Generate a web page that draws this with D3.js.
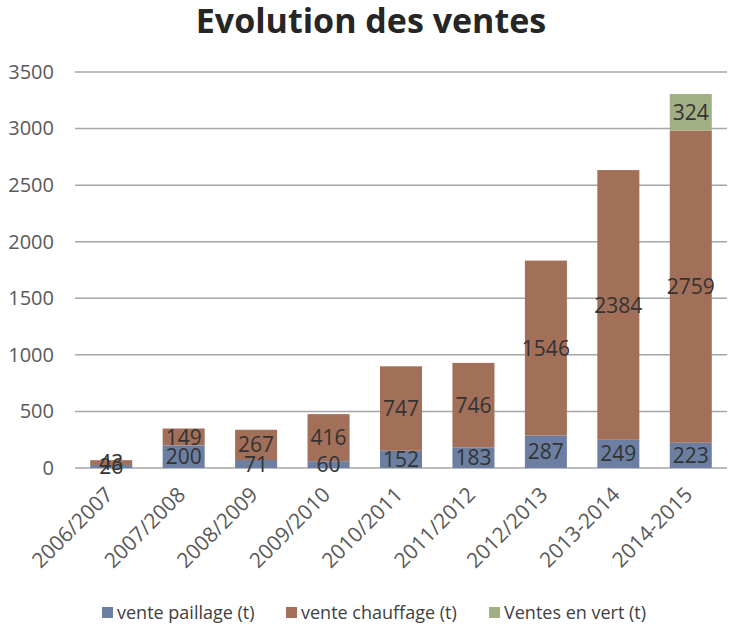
<!DOCTYPE html>
<html><head><meta charset="utf-8">
<script src="https://cdn.jsdelivr.net/npm/d3@7"></script>
<style>body{margin:0;background:#fff;}svg{display:block;font-family:"Open Sans",sans-serif;}</style>
</head><body>
<svg id="c" width="747" height="636"></svg>
<script>
const categories = ["2006/2007","2007/2008","2008/2009","2009/2010","2010/2011","2011/2012","2012/2013","2013-2014","2014-2015"];
const paillage = [26,200,71,60,152,183,287,249,223];
const chauffage = [43,149,267,416,747,746,1546,2384,2759];
const vert = [0,0,0,0,0,0,0,0,324];
const seriesNames = ["vente paillage (t)","vente chauffage (t)","Ventes en vert (t)"];
const colors = ["#6c7fa2","#a26f58","#a2ae84"];
const yTicks = [0,500,1000,1500,2000,2500,3000,3500];

const svg = d3.select("#c");
const x = d3.scaleBand().domain(categories).range([75,727]).paddingInner(0.42).paddingOuter(0.21);
const y = d3.scaleLinear().domain([0,3500]).range([468,72]);

svg.append("text").attr("x",371).attr("y",33).attr("text-anchor","middle")
  .attr("font-size",34).attr("font-weight","bold").attr("fill","#262626").text("Evolution des ventes");

// grid
svg.append("g").selectAll("line").data(yTicks).join("line")
  .attr("x1",75).attr("x2",727).attr("y1",d=>y(d)).attr("y2",d=>y(d))
  .attr("stroke","#a6a6a6").attr("stroke-width",1.5);

// y axis labels
const yAxis = d3.axisLeft(y).tickValues(yTicks).tickFormat(d3.format("d")).tickSize(0).tickPadding(0);
const gy = svg.append("g").attr("transform","translate(54,0)").call(yAxis);
gy.select(".domain").remove();
gy.selectAll("text").attr("font-size",20).attr("fill","#595959").attr("font-family","Open Sans");

const rows = categories.map((c,i)=>({cat:c, s0:paillage[i], s1:chauffage[i], s2:vert[i]}));
const stack = d3.stack().keys(["s0","s1","s2"])(rows);

const g = svg.append("g");
stack.forEach((layer,k)=>{
  g.selectAll(null).data(layer.filter(d=>d[1]-d[0]>0)).join("rect")
    .attr("x",d=>x(d.data.cat)).attr("width",x.bandwidth())
    .attr("y",d=>y(d[1])).attr("height",d=>y(d[0])-y(d[1]))
    .attr("fill",colors[k]);
});
stack.forEach((layer,k)=>{
  g.selectAll(null).data(layer.filter(d=>d[1]-d[0]>0)).join("text")
    .attr("x",d=>x(d.data.cat)+x.bandwidth()/2)
    .attr("y",d=>y((d[0]+d[1])/2)).attr("dy","0.36em")
    .attr("text-anchor","middle").attr("font-size",21).attr("fill","#333333")
    .text(d=>d[1]-d[0]);
});

// x labels
const xAxis = d3.axisBottom(x).tickSize(0).tickPadding(0);
const gx = svg.append("g").attr("transform","translate(0,478)").call(xAxis);
gx.select(".domain").remove();
gx.selectAll("text").attr("font-size",21).attr("fill","#595959").attr("font-family","Open Sans")
  .attr("text-anchor","end").attr("x",0).attr("y",0).attr("dy",0)
  .attr("transform","translate(3,18) rotate(-45)");

// legend
const legX = [102,286,489];
const lg = svg.append("g");
seriesNames.forEach((n,i)=>{
  lg.append("rect").attr("x",legX[i]).attr("y",607).attr("width",11).attr("height",11).attr("fill",colors[i]);
  lg.append("text").attr("x",legX[i]+15).attr("y",619).attr("font-size",18).attr("fill","#404040").text(n);
});
</script>
</body></html>
